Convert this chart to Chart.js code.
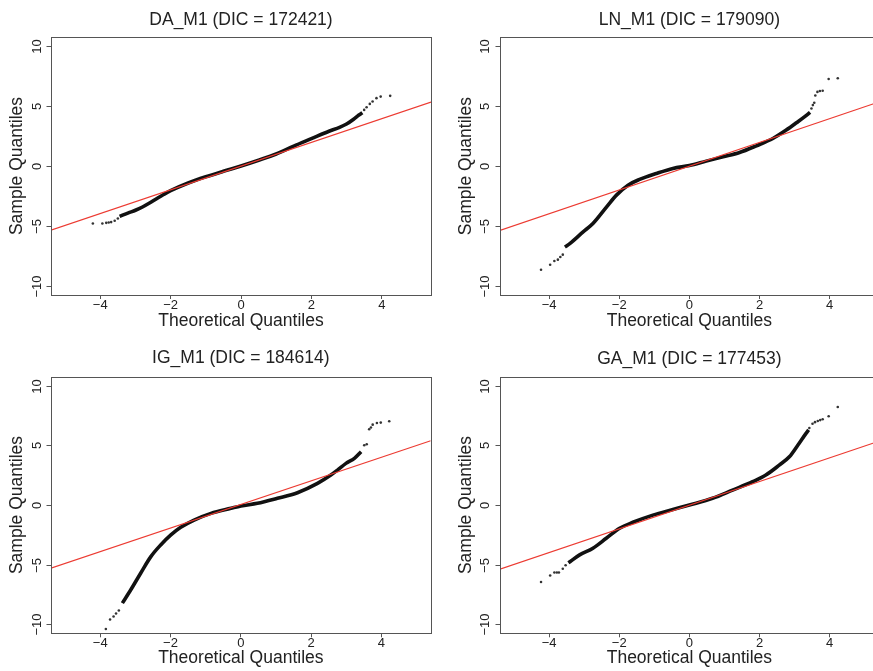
<!DOCTYPE html>
<html><head><meta charset="utf-8">
<script src="https://cdn.jsdelivr.net/npm/chart.js@4.4.1/dist/chart.umd.min.js"></script>
<style>
html,body{margin:0;padding:0;background:#fff;width:873px;height:671px;overflow:hidden;}
#wrap{position:relative;width:873px;height:671px;overflow:hidden;background:#fff;}
canvas{position:absolute;}
</style></head><body><div id="wrap">
<canvas id="c0" width="440" height="335" style="left:0px;top:0px"></canvas>
<canvas id="c1" width="440" height="335" style="left:449px;top:0px"></canvas>
<canvas id="c2" width="440" height="336" style="left:0px;top:335px"></canvas>
<canvas id="c3" width="440" height="336" style="left:449px;top:335px"></canvas>
</div>
<script>
// ---------- data ----------
const titles = ["DA_M1 (DIC = 172421)", "LN_M1 (DIC = 179090)", "IG_M1 (DIC = 184614)", "GA_M1 (DIC = 177453)"];
const xAxisTitle = "Theoretical Quantiles";
const yAxisTitle = "Sample Quantiles";
const xTickValues = [-4, -2, 0, 2, 4];
const yTickValues = [-10, -5, 0, 5, 10];

// DA_M1
const daBodyX = [-3.45,-3.2,-3.0,-2.8,-2.6,-2.4,-2.2,-2.0,-1.5,-1.0,-0.5,0,0.5,1.0,1.5,2.0,2.5,2.8,3.0,3.2,3.35,3.45];
const daBodyY = [-4.2,-3.91,-3.69,-3.42,-3.09,-2.73,-2.38,-2.06,-1.42,-0.9,-0.44,0,0.48,1.0,1.66,2.28,2.9,3.22,3.5,3.9,4.25,4.45];
const daTailX = [-4.21,-3.94,-3.83,-3.76,-3.69,-3.59,-3.5, 3.5,3.57,3.66,3.74,3.85,3.97,4.24];
const daTailY = [-4.79,-4.79,-4.74,-4.71,-4.68,-4.57,-4.38, 4.68,4.9,5.18,5.38,5.66,5.79,5.85];
const daLineX = [-5.4, 5.4];
const daLineY = [-5.35, 5.33];

// LN_M1
const lnBodyX = [-3.55,-3.41,-3.03,-2.75,-2.36,-2.08,-1.75,-1.42,-0.94,-0.47,0,0.48,0.96,1.43,1.91,2.38,2.76,3.05,3.38,3.44];
const lnBodyY = [-6.75,-6.47,-5.49,-4.79,-3.40,-2.42,-1.59,-1.11,-0.61,-0.19,0.05,0.42,0.78,1.14,1.70,2.31,3.01,3.62,4.35,4.5];
const lnTailX = [-4.23,-3.97,-3.85,-3.75,-3.68,-3.61, 3.48,3.52,3.56,3.59,3.65,3.72,3.80,3.97,4.23];
const lnTailY = [-8.65,-8.23,-7.92,-7.81,-7.59,-7.39, 4.82,5.1,5.3,5.9,6.2,6.28,6.3,7.28,7.34];
const lnLineX = [-5.4, 5.4];
const lnLineY = [-5.37, 5.36];

// IG_M1
const igBodyX = [-3.37,-3.13,-2.85,-2.56,-2.28,-1.99,-1.71,-1.33,-0.85,-0.28,0,0.47,1.04,1.61,2.18,2.56,2.75,2.99,3.23,3.42];
const igBodyY = [-8.23,-7.11,-5.72,-4.33,-3.35,-2.51,-1.87,-1.26,-0.70,-0.28,-0.08,0.14,0.56,1.03,1.81,2.51,2.93,3.49,3.91,4.46];
const igTailX = [-3.84,-3.72,-3.62,-3.55,-3.47, 3.51,3.58,3.65,3.70,3.75,3.87,3.98,4.22];
const igTailY = [-10.4,-9.6,-9.35,-9.1,-8.85, 5.01,5.10,6.35,6.5,6.74,6.88,6.91,7.02];
const igLineX = [-5.4, 5.4];
const igLineY = [-5.3, 5.38];

// GA_M1
const gaBodyX = [-3.45,-3.13,-2.75,-2.37,-1.99,-1.61,-1.04,-0.47,0,0.66,1.23,1.80,2.18,2.56,2.85,3.09,3.32,3.40];
const gaBodyY = [-4.85,-4.18,-3.62,-2.79,-1.95,-1.45,-0.85,-0.38,0,0.56,1.25,1.95,2.51,3.34,4.04,5.01,5.99,6.3];
const gaTailX = [-4.23,-3.97,-3.85,-3.78,-3.72,-3.61,-3.53, 3.42,3.51,3.58,3.66,3.73,3.80,3.97,4.23];
const gaTailY = [-6.46,-5.91,-5.66,-5.66,-5.66,-5.35,-5.05, 6.46,6.82,6.95,7.05,7.12,7.19,7.44,8.22];
const gaLineX = [-5.4, 5.4];
const gaLineY = [-5.38, 5.35];

// ---------- rendering ----------
const FONT = '"Liberation Sans", Arial, Helvetica, sans-serif';
const TEXT = '#222';
const BOX = '#555';
const fmt = v => (v < 0 ? '\u2212' + Math.abs(v) : String(v));
const pts = (xs, ys) => xs.map((x, i) => ({x: x, y: ys[i]}));

const rPlot = {
  id: 'rPlot',
  afterDraw(chart, args, o) {
    const ctx = chart.ctx, a = chart.chartArea, y = chart.scales.y;
    ctx.save();
    ctx.strokeStyle = BOX; ctx.lineWidth = 1;
    const L = Math.round(a.left) + 0.5, T = Math.round(a.top) + 0.5;
    const R = Math.round(a.right) + 0.5, B = Math.round(a.bottom) + 0.5;
    ctx.strokeRect(L, T, R - L, B - T);
    ctx.font = '13px ' + FONT;
    ctx.fillStyle = TEXT;
    ctx.textAlign = 'center'; ctx.textBaseline = 'middle';
    yTickValues.forEach(v => {
      const py = Math.round(y.getPixelForValue(v)) + 0.5;
      ctx.beginPath(); ctx.moveTo(L - 5, py); ctx.lineTo(L, py); ctx.stroke();
      ctx.save();
      ctx.translate(a.left - o.yLabelGap, py);
      ctx.rotate(-Math.PI / 2);
      ctx.fillText(fmt(v), 0, 0);
      ctx.restore();
    });
    ctx.font = '17.5px ' + FONT;
    ctx.fillText(o.title, (a.left + a.right) / 2, o.titleY);
    ctx.restore();
  }
};

const panels = [
  {id:'c0', title:titles[0], bx:daBodyX, by:daBodyY, tx:daTailX, ty:daTailY, lx:daLineX, ly:daLineY,
   top:37, right:9, xh:40, titleY:19.7, yGap:13.5, xTitlePad:3.5},
  {id:'c1', title:titles[1], bx:lnBodyX, by:lnBodyY, tx:lnTailX, ty:lnTailY, lx:lnLineX, ly:lnLineY,
   top:37.3, right:10.2, xh:40, titleY:19.7, yGap:15, xTitlePad:3.5},
  {id:'c2', title:titles[2], bx:igBodyX, by:igBodyY, tx:igTailX, ty:igTailY, lx:igLineX, ly:igLineY,
   top:41.7, right:9.3, xh:37.7, titleY:23.3, yGap:13.5, xTitlePad:2.3},
  {id:'c3', title:titles[3], bx:gaBodyX, by:gaBodyY, tx:gaTailX, ty:gaTailY, lx:gaLineX, ly:gaLineY,
   top:41.7, right:10.2, xh:37.7, titleY:23.7, yGap:15, xTitlePad:2.3}
];

panels.forEach(p => {
  new Chart(document.getElementById(p.id), {
    type: 'scatter',
    data: {
      datasets: [
        {data: pts(p.lx, p.ly), showLine: true, pointRadius: 0, borderColor: '#ec3b32', borderWidth: 1.1, order: 0},
        {data: pts(p.tx, p.ty), showLine: false, pointRadius: 1.3, pointBorderWidth: 0, backgroundColor: '#333', order: 1},
        {data: pts(p.bx, p.by), showLine: true, pointRadius: 0, borderColor: '#111', borderWidth: 3.6,
         cubicInterpolationMode: 'monotone', order: 2}
      ]
    },
    plugins: [rPlot],
    options: {
      responsive: false, animation: false, devicePixelRatio: 1,
      layout: {padding: {left: 0, right: p.right, top: p.top, bottom: 0}},
      plugins: {
        legend: {display: false}, tooltip: {enabled: false}, title: {display: false},
        rPlot: {title: p.title, titleY: p.titleY, yLabelGap: p.yGap}
      },
      scales: {
        x: {
          type: 'linear', min: -5.4, max: 5.4,
          afterBuildTicks: s => { s.ticks = xTickValues.map(v => ({value: v})); },
          afterFit: s => { s.height = p.xh; },
          ticks: {font: {size: 13, family: FONT}, color: TEXT, padding: -1.5, maxRotation: 0,
                  callback: v => fmt(v)},
          grid: {display: true, drawOnChartArea: false, drawTicks: true, tickLength: 4, color: BOX, lineWidth: 1},
          border: {display: false},
          title: {display: true, text: xAxisTitle, color: TEXT, font: {size: 17.5, family: FONT},
                  padding: {top: 0, bottom: p.xTitlePad}}
        },
        y: {
          type: 'linear', min: -10.76, max: 10.76,
          afterBuildTicks: s => { s.ticks = yTickValues.map(v => ({value: v})); },
          afterFit: s => { s.width = 51; },
          ticks: {display: false},
          grid: {display: false},
          border: {display: false},
          title: {display: true, text: yAxisTitle, color: TEXT, font: {size: 17.5, family: FONT},
                  padding: {top: 7, bottom: 0}}
        }
      }
    }
  });
});
</script>
</body></html>
